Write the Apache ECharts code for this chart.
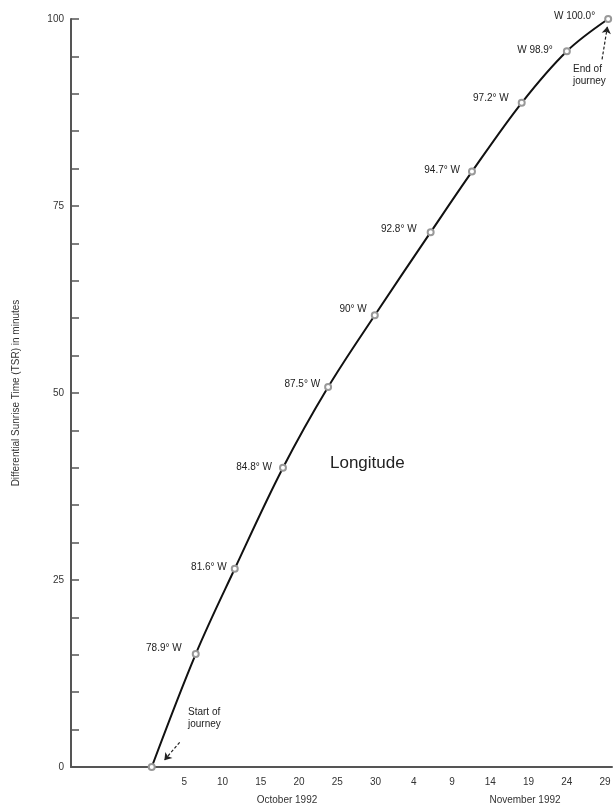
<!DOCTYPE html>
<html>
<head>
<meta charset="utf-8">
<script src="https://cdn.jsdelivr.net/npm/echarts@6/dist/echarts.min.js"></script>
<style>html,body{margin:0;padding:0;background:#fff}#c{width:615px;height:812px}</style>
</head>
<body>
<div id="c"></div>
<script>
// x = days after Oct 5, 1992 (Oct 5 = 0, Nov 4 = 30, Nov 29 = 55)
var tickDays = [0, 5, 10, 15, 20, 25, 30, 35, 40, 45, 50, 55];
var tickLabels = ['5', '10', '15', '20', '25', '30', '4', '9', '14', '19', '24', '29'];
var yTickLabels = [0, 25, 50, 75, 100];
var days = [-4.25, 1.5, 6.6, 12.9, 18.8, 24.9, 32.2, 37.6, 44.1, 50.0, 55.4];
var tsr = [0, 15.1, 26.5, 40.0, 50.8, 60.4, 71.5, 79.6, 88.8, 95.7, 100];
var lonLabels = ['', '78.9° W', '81.6° W', '84.8° W', '87.5° W', '90° W', '92.8° W', '94.7° W', '97.2° W', 'W 98.9°', 'W 100.0°'];
var monthLabels = ['October 1992', 'November 1992'];
var startArrow = [[-0.6, 3.3], [-2.6, 0.9]];
var endArrow = [[54.6, 94.6], [55.3, 99.0]];

var labelOffsetY = [0, -6, -2, -1, -3, -6, -3, -1, -5, -1, -3];
var labelDist = [0, 10, 4, 7, 4, 4, 10, 8, 9, 10, 9];

var F = 'Liberation Sans, Arial, Helvetica, sans-serif';
var chart = echarts.init(document.getElementById('c'), null, {renderer: 'canvas'});
var pts = days.map(function (d, i) {
  return {
    value: [d, tsr[i]],
    name: lonLabels[i],
    label: {show: lonLabels[i] !== '', position: 'left', distance: labelDist[i], offset: [0, labelOffsetY[i]]}
  };
});
chart.setOption({
  animation: false,
  backgroundColor: '#fff',
  grid: {left: 71, right: 3, top: 19, bottom: 45, containLabel: false},
  xAxis: {
    type: 'value', min: -14.8, max: 55.9,
    axisLine: {show: true, onZero: false, lineStyle: {color: '#555', width: 2}},
    axisTick: {show: false},
    splitLine: {show: false},
    axisLabel: {
      customValues: tickDays, margin: 10, color: '#333', fontSize: 10, fontFamily: F,
      formatter: function (v) { var i = tickDays.indexOf(v); return i >= 0 ? tickLabels[i] : ''; }
    }
  },
  yAxis: {
    type: 'value', min: 0, max: 100, interval: 5,
    name: 'Differential Sunrise Time (TSR) in minutes',
    nameLocation: 'middle', nameGap: 50,
    nameTextStyle: {color: '#333', fontSize: 10, fontFamily: F},
    axisLine: {show: true, onZero: false, lineStyle: {color: '#555', width: 2}},
    axisTick: {show: true, inside: true, length: 8, lineStyle: {color: '#555', width: 1.5}},
    splitLine: {show: false},
    axisLabel: {
      margin: 7, color: '#333', fontSize: 10, fontFamily: F,
      formatter: function (v) { return yTickLabels.indexOf(v) >= 0 ? String(v) : ''; }
    }
  },
  series: [{
    type: 'line',
    data: pts,
    smooth: 0.35,
    symbol: 'emptyCircle',
    symbolSize: 6,
    showAllSymbol: true,
    lineStyle: {color: '#111', width: 2},
    itemStyle: {color: '#999', borderColor: '#888', borderWidth: 1},
    label: {color: '#222', fontSize: 10, fontFamily: F, formatter: function (p) { return p.name; }},
    clip: false,
    z: 3,
    markLine: {
      silent: true,
      symbol: ['none', 'arrow'],
      symbolSize: 7,
      label: {show: false},
      lineStyle: {color: '#222', width: 1.2, type: [3, 2]},
      data: [
        [{coord: startArrow[0]}, {coord: startArrow[1]}],
        [{coord: endArrow[0]}, {coord: endArrow[1]}]
      ]
    }
  }],
  graphic: [
    {type: 'text', left: 330, top: 455, style: {text: 'Longitude', fontSize: 17, fontFamily: F, fill: '#222'}},
    {type: 'text', left: 188, top: 706, style: {text: 'Start of\njourney', fontSize: 10, lineHeight: 12, fontFamily: F, fill: '#222'}},
    {type: 'text', left: 573, top: 63, style: {text: 'End of\njourney', fontSize: 10, lineHeight: 12, fontFamily: F, fill: '#222'}},
    {type: 'text', x: 287, y: 800, style: {text: monthLabels[0], fontSize: 10, fontFamily: F, fill: '#333', align: 'center', verticalAlign: 'middle'}},
    {type: 'text', x: 525, y: 800, style: {text: monthLabels[1], fontSize: 10, fontFamily: F, fill: '#333', align: 'center', verticalAlign: 'middle'}}
  ]
});
</script>
</body>
</html>
